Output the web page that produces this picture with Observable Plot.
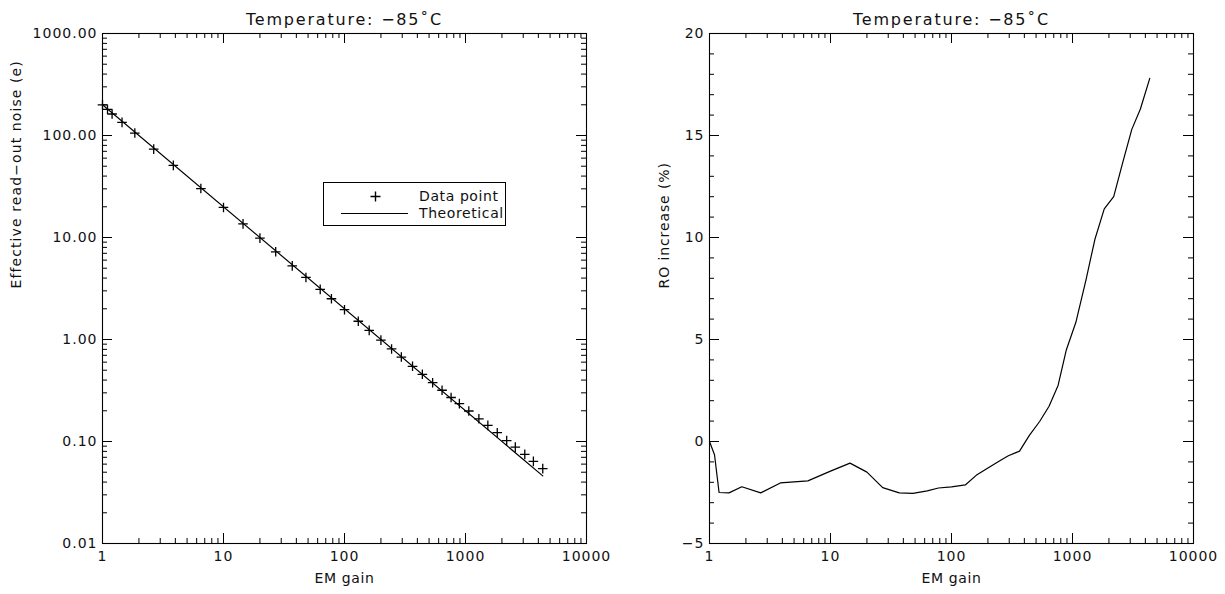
<!DOCTYPE html>
<html>
<head>
<meta charset="utf-8">
<script src="https://cdn.jsdelivr.net/npm/d3@7"></script>
<script src="https://cdn.jsdelivr.net/npm/@observablehq/plot@0.6"></script>
<style>
  html, body { margin: 0; padding: 0; background: #fff; }
  #wrap { position: relative; width: 1225px; height: 594px; display: flex; font-family: "DejaVu Sans", sans-serif; }
  #legend { position: absolute; left: 323px; top: 182px; width: 183px; height: 44px; border: 1px solid #000; box-sizing: border-box; background: #fff; }
  #legend svg { position: absolute; left: 0; top: 0; }
  #legend text { letter-spacing: 0.6px; }
</style>
</head>
<body>
<div id="wrap"></div>
<script>
// ---- data ----
const gain = [1, 1.1, 1.2, 1.45, 1.85, 2.65, 3.85, 6.5, 10, 14.5, 20, 27, 37, 48, 63, 78, 100, 130, 160, 200, 245, 295, 365, 440, 535, 640, 760, 890, 1065, 1290, 1530, 1830, 2190, 2580, 3090, 3640, 4350];
const noise = [200, 180.6, 162.5, 134.5, 105.7, 73.5, 50.9, 30.2, 19.7, 13.6, 9.85, 7.24, 5.27, 4.06, 3.10, 2.51, 1.96, 1.51, 1.23, 0.987, 0.808, 0.673, 0.546, 0.456, 0.377, 0.318, 0.270, 0.235, 0.199, 0.167, 0.144, 0.122, 0.102, 0.0881, 0.0747, 0.0639, 0.0542];
const theoryGain = [1, 4350];
const theoryNoise = [200, 0.046];
const roIncrease = [0, -0.65, -2.5, -2.52, -2.22, -2.52, -2.03, -1.93, -1.45, -1.06, -1.5, -2.26, -2.52, -2.54, -2.42, -2.28, -2.22, -2.13, -1.66, -1.3, -0.98, -0.7, -0.47, 0.3, 0.98, 1.73, 2.75, 4.5, 5.83, 7.9, 9.9, 11.4, 12.0, 13.6, 15.3, 16.3, 17.8];

const xMajor = [1, 10, 100, 1000, 10000];
const yLogMajor = [0.01, 0.1, 1, 10, 100, 1000];
const yLinMajor = [-5, 0, 5, 10, 15, 20];
const titleText = "Temperature: \u221285\u02DAC";
const xTitle = "EM gain";
const yTitleLeft = "Effective read\u2212out noise (e)";
const yTitleRight = "RO increase (%)";
const legendLabels = ["Data point", "Theoretical"];

// minor ticks
const logMinor = (lo, hi) => { const out = []; for (let d = lo; d < hi; d *= 10) for (let k = 2; k <= 9; k++) out.push(d * k); return out; };
const xMinor = logMinor(1, 10000);
const yLogMinor = logMinor(0.01, 1000);
const yLinMinor = d3.range(-5, 21).filter(v => v % 5 !== 0);

const dataRows = gain.map((g, i) => ({g, n: noise[i], p: roIncrease[i]}));
const theoryRows = theoryGain.map((g, i) => ({g, n: theoryNoise[i]}));

const plusSymbol = {
  draw(ctx, size) {
    const r = Math.sqrt(size / Math.PI);
    ctx.moveTo(-r, 0); ctx.lineTo(r, 0);
    ctx.moveTo(0, -r); ctx.lineTo(0, r);
  }
};

const H = 594, mTop = 33, mBottom = 51;
const frameH = H - mTop - mBottom;
const MAJ = 10, MIN = 5;
const TXT = "#111";
const style = {fontFamily: "DejaVu Sans, sans-serif", fontSize: "14px", background: "white", color: "black", overflow: "visible"};

function boxTicks(xMaj, xMin, yMaj, yMin, frameW) {
  return [
    Plot.tickX(xMaj, {x: d => d, insetTop: frameH - MAJ, stroke: "black"}),
    Plot.tickX(xMaj, {x: d => d, insetBottom: frameH - MAJ, stroke: "black"}),
    Plot.tickX(xMin, {x: d => d, insetTop: frameH - MIN, stroke: "black"}),
    Plot.tickX(xMin, {x: d => d, insetBottom: frameH - MIN, stroke: "black"}),
    Plot.tickY(yMaj, {y: d => d, insetRight: frameW - MAJ, stroke: "black"}),
    Plot.tickY(yMaj, {y: d => d, insetLeft: frameW - MAJ, stroke: "black"}),
    Plot.tickY(yMin, {y: d => d, insetRight: frameW - MIN, stroke: "black"}),
    Plot.tickY(yMin, {y: d => d, insetLeft: frameW - MIN, stroke: "black"}),
    Plot.frame({stroke: "black", strokeWidth: 1.1})
  ];
}

function labels(yMaj, yFmt, yTitle, yTitleDx) {
  return [
    Plot.text(xMajor, {x: d => d, frameAnchor: "bottom", dy: 17, text: d => String(d), fontSize: 14, fill: TXT}),
    Plot.text(yMaj, {y: d => d, frameAnchor: "left", dx: -5, textAnchor: "end", text: yFmt, fontSize: 14, fill: TXT}),
    Plot.text([xTitle], {frameAnchor: "bottom", dy: 39, text: d => d, fontSize: 14, fill: TXT}),
    Plot.text([yTitle], {frameAnchor: "left", dx: yTitleDx, rotate: -90, text: d => d, fontSize: 14, fill: TXT}),
    Plot.text([titleText], {frameAnchor: "top", dy: -20, text: d => d, fontSize: 16, fill: TXT})
  ];
}

// ---- left panel ----
const LW = 610, LmL = 102, LmR = 24;
const left = Plot.plot({
  width: LW, height: H,
  marginLeft: LmL, marginRight: LmR, marginTop: mTop, marginBottom: mBottom,
  style,
  x: {type: "log", domain: [1, 10000], axis: null},
  y: {type: "log", domain: [0.01, 1000], axis: null},
  marks: [
    ...boxTicks(xMajor, xMinor, yLogMajor, yLogMinor, LW - LmL - LmR),
    Plot.line(theoryRows, {x: "g", y: "n", stroke: "black", strokeWidth: 1.2}),
    Plot.dot(dataRows, {x: "g", y: "n", symbol: plusSymbol, r: 4.8, stroke: "black", fill: "none", strokeWidth: 1.3}),
    ...labels(yLogMajor, d3.format(".2f"), yTitleLeft, -86)
  ]
});

// ---- right panel ----
const RW = 615, RmL = 99, RmR = 32;
const right = Plot.plot({
  width: RW, height: H,
  marginLeft: RmL, marginRight: RmR, marginTop: mTop, marginBottom: mBottom,
  style,
  x: {type: "log", domain: [1, 10000], axis: null},
  y: {type: "linear", domain: [-5, 20], axis: null},
  marks: [
    ...boxTicks(xMajor, xMinor, yLinMajor, yLinMinor, RW - RmL - RmR),
    Plot.line(dataRows, {x: "g", y: "p", stroke: "black", strokeWidth: 1.2}),
    ...labels(yLinMajor, d => d < 0 ? "\u2212" + Math.abs(d) : String(d), yTitleRight, -45)
  ]
});

// letter spacing to mimic the wide vector font of the original
for (const svg of [left, right]) {
  svg.querySelectorAll("text").forEach(t => {
    const s = t.textContent;
    let ls = 1;
    if (s === titleText) ls = 1.8;
    else if (s === xTitle) ls = 0.6;
    else if (s === yTitleLeft) ls = 1.1;
    else if (s === yTitleRight) ls = 0.9;
    t.style.letterSpacing = ls + "px";
  });
}

const wrap = document.getElementById("wrap");
wrap.appendChild(left);
wrap.appendChild(right);

// ---- legend (HTML overlay) ----
const legend = document.createElement("div");
legend.id = "legend";
legend.innerHTML = `<svg width="183" height="44" font-family="DejaVu Sans, sans-serif" font-size="14" fill="${TXT}">
  <path d="M46.5,13.5h10M51.5,8.5v10" stroke="black" stroke-width="1.4" fill="none"/>
  <line x1="17" y1="30.5" x2="84" y2="30.5" stroke="black" stroke-width="1.1"/>
  <text x="95" y="13.5" dominant-baseline="middle">${legendLabels[0]}</text>
  <text x="95" y="30.5" dominant-baseline="middle">${legendLabels[1]}</text>
</svg>`;
wrap.appendChild(legend);
</script>
</body>
</html>
